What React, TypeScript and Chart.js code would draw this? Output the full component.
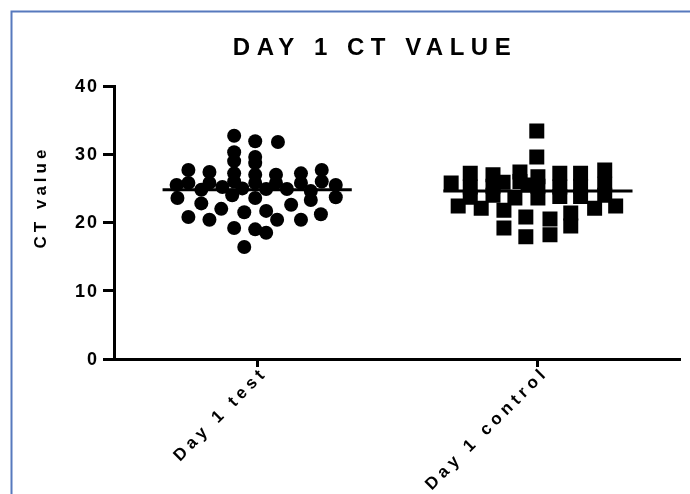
import React, { useEffect, useRef } from "react";
import { Chart, registerables } from "chart.js";

Chart.register(...registerables);

const categories = ["Day 1 test", "Day 1 control"];
const yTicks = [0, 10, 20, 30, 40];
const titleText = "DAY 1 CT VALUE";
const yTitleText = "CT value";

// Day 1 test (circles): values and horizontal jitter (category units)
const testValues = [
  32.7, 31.9, 31.8, 30.3, 29.0, 29.6, 28.7, 27.7, 27.4, 27.2, 27.0, 27.0, 27.2, 27.7,
  25.5, 25.8, 24.8, 25.8, 25.2, 26.0, 25.0, 25.8, 24.9, 25.8, 24.9, 25.8, 24.6, 26.0, 25.5,
  23.6, 22.8, 24.0, 23.6, 23.3, 23.7,
  20.8, 22.0, 21.5, 21.7, 22.6, 21.2,
  20.4, 20.4, 20.4, 19.2, 19.0, 18.5, 16.4,
];
const testJitter = [
  -0.082, -0.007, 0.074, -0.082, -0.082, -0.007, -0.007, -0.245, -0.17, -0.082, -0.007, 0.067, 0.156, 0.23,
  -0.287, -0.245, -0.199, -0.17, -0.124, -0.082, -0.053, -0.007, 0.032, 0.067, 0.106, 0.156, 0.191, 0.23, 0.28,
  -0.284, -0.199, -0.089, -0.007, 0.191, 0.28,
  -0.245, -0.128, -0.046, 0.032, 0.121, 0.227,
  -0.17, 0.071, 0.156, -0.082, -0.007, 0.032, -0.046,
];

// Day 1 control (squares)
const controlValues = [
  33.4, 29.6, 27.2, 27.0, 27.4, 26.7, 27.2, 27.2, 27.7,
  25.8, 25.2, 25.3, 25.9, 26.0, 25.5, 25.3, 25.2, 25.3, 25.6,
  23.7, 24.0, 23.6, 23.6, 23.8, 23.8, 24.0,
  22.4, 22.1, 21.8, 22.1, 22.4,
  20.8, 20.5, 21.4, 19.2, 19.5, 17.9, 18.2,
];
const controlJitter = [
  -0.004, -0.004, -0.241, -0.16, -0.064, 0, 0.078, 0.152, 0.238,
  -0.309, -0.241, -0.16, -0.124, -0.064, -0.035, 0, 0.078, 0.152, 0.238,
  -0.241, -0.16, -0.082, 0, 0.078, 0.152, 0.238,
  -0.284, -0.202, -0.121, 0.202, 0.277,
  -0.043, 0.043, 0.117, -0.121, 0.117, -0.043, 0.043,
];

const medians = [24.8, 24.6];
const medianHalfWidth = 0.337;

const FONT = "'Liberation Sans', Arial, sans-serif";

export default function App() {
  const ref = useRef<HTMLCanvasElement | null>(null);

  useEffect(() => {
    if (!ref.current) return;

    const textPlugin = {
      id: "prismText",
      beforeDraw(chart: any) {
        const ctx = chart.ctx;
        ctx.save();
        ctx.fillStyle = "#ffffff";
        ctx.fillRect(0, 0, chart.width, chart.height);
        ctx.strokeStyle = "#5779bd";
        ctx.lineWidth = 2;
        ctx.beginPath();
        ctx.moveTo(11.5, chart.height);
        ctx.lineTo(11.5, 11.5);
        ctx.lineTo(chart.width, 11.5);
        ctx.stroke();
        ctx.restore();
      },
      afterDraw(chart: any) {
        const ctx = chart.ctx;
        const xs = chart.scales.x;
        const ys = chart.scales.y;
        const area = chart.chartArea;
        ctx.save();
        ctx.fillStyle = "#000";
        // title
        ctx.font = `bold 24px ${FONT}`;
        (ctx as any).letterSpacing = "6.5px";
        ctx.textAlign = "center";
        ctx.textBaseline = "alphabetic";
        ctx.fillText(titleText, 375, 55);
        // y title
        ctx.save();
        ctx.font = `bold 17px ${FONT}`;
        (ctx as any).letterSpacing = "4px";
        ctx.translate(46, 197);
        ctx.rotate(-Math.PI / 2);
        ctx.textAlign = "center";
        ctx.fillText(yTitleText, 0, 0);
        ctx.restore();
        // y tick labels
        ctx.font = `bold 18px ${FONT}`;
        (ctx as any).letterSpacing = "2px";
        ctx.textAlign = "right";
        ctx.textBaseline = "middle";
        yTicks.forEach((v) => {
          ctx.fillText(String(v), area.left - 15, ys.getPixelForValue(v) + 1);
        });
        // x tick labels
        ctx.font = `bold 17px ${FONT}`;
        (ctx as any).letterSpacing = "4.5px";
        ctx.textAlign = "right";
        ctx.textBaseline = "middle";
        categories.forEach((c, i) => {
          const x = xs.getPixelForValue(i + 1);
          ctx.save();
          ctx.translate(x + 8, area.bottom + 11);
          ctx.rotate(-Math.PI / 4);
          ctx.fillText(c, 0, 0);
          ctx.restore();
        });
        ctx.restore();
      },
    };

    const testData = testValues.map((v, i) => ({ x: 1 + testJitter[i], y: v }));
    const controlData = controlValues.map((v, i) => ({ x: 2 + controlJitter[i], y: v }));
    const medianSets = medians.map((m, i) => ({
      type: "line" as const,
      label: "median " + categories[i],
      data: [
        { x: i + 1 - medianHalfWidth, y: m },
        { x: i + 1 + medianHalfWidth, y: m },
      ],
      borderColor: "#000",
      borderWidth: 3,
      pointRadius: 0,
      showLine: true,
      fill: false,
    }));

    const chart = new Chart(ref.current, {
      type: "scatter",
      data: {
        datasets: [
          {
            label: categories[0],
            data: testData,
            pointStyle: "circle",
            pointRadius: 7,
            backgroundColor: "#000",
            borderWidth: 0,
          },
          {
            label: categories[1],
            data: controlData,
            pointStyle: "rect",
            pointRadius: 10.6,
            backgroundColor: "#000",
            borderWidth: 0,
          },
          ...medianSets,
        ] as any,
      },
      plugins: [textPlugin],
      options: {
        animation: false,
        responsive: false,
        layout: { padding: { top: 86, right: 8, left: 0, bottom: 0 } },
        plugins: {
          legend: { display: false },
          tooltip: { enabled: false },
          title: { display: false },
        },
        scales: {
          x: {
            type: "linear",
            min: 0.49,
            max: 2.504,
            afterBuildTicks: (scale: any) => {
              scale.ticks = categories.map((_, i) => ({ value: i + 1 }));
            },
            afterFit: (scale: any) => {
              scale.height = 135;
            },
            ticks: { display: false },
            grid: {
              drawOnChartArea: false,
              drawTicks: true,
              tickLength: 8,
              lineWidth: 3,
              color: "#000",
            },
            border: { display: true, width: 3, color: "#000" },
          },
          y: {
            min: 0,
            max: 40,
            afterBuildTicks: (scale: any) => {
              scale.ticks = yTicks.map((v) => ({ value: v }));
            },
            afterFit: (scale: any) => {
              scale.width = 114;
            },
            ticks: { display: false },
            grid: {
              drawOnChartArea: false,
              drawTicks: true,
              tickLength: 11,
              lineWidth: 3,
              color: "#000",
            },
            border: { display: true, width: 3, color: "#000" },
          },
        },
      } as any,
    });

    return () => chart.destroy();
  }, []);

  return (
    <div style={{ position: "fixed", left: 0, top: 0, width: 690, height: 494, background: "#fff" }}>
      <canvas ref={ref} width={690} height={494} style={{ display: "block" }} />
    </div>
  );
}
